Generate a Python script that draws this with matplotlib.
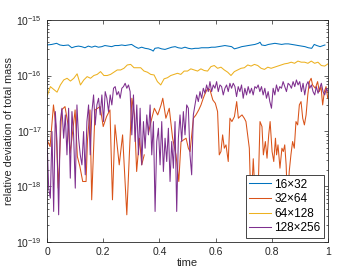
import numpy as np
import matplotlib
matplotlib.use("Agg")
from matplotlib import pyplot as plt

plt.rcParams['font.family'] = ['Liberation Sans', 'DejaVu Sans']

## dados (log10 dos desvios relativos)

# 16x32
t_16 = [0.000, 0.017, 0.034, 0.046, 0.058, 0.076, 0.088, 0.100, 0.112, 0.123, 0.135, 0.147,
        0.159, 0.171, 0.183, 0.195, 0.206, 0.218, 0.230, 0.242, 0.254, 0.266, 0.278, 0.289,
        0.301, 0.313, 0.325, 0.337, 0.349, 0.361, 0.372, 0.378, 0.384, 0.396, 0.408, 0.420,
        0.432, 0.444, 0.456, 0.467, 0.479, 0.491, 0.503, 0.515, 0.527, 0.539, 0.550, 0.562,
        0.574, 0.586, 0.598, 0.610, 0.622, 0.633, 0.645, 0.657, 0.667, 0.681, 0.693, 0.705,
        0.716, 0.728, 0.740, 0.752, 0.758, 0.764, 0.776, 0.788, 0.800, 0.811, 0.823, 0.835,
        0.847, 0.859, 0.871, 0.883, 0.894, 0.906, 0.918, 0.930, 0.942, 0.951, 0.960, 0.972,
        0.983, 0.989]
log_16 = [-15.45, -15.44, -15.42, -15.45, -15.46, -15.45, -15.50, -15.48, -15.47, -15.48, -15.50, -15.47,
          -15.49, -15.47, -15.49, -15.48, -15.46, -15.47, -15.48, -15.46, -15.46, -15.45, -15.46, -15.45,
          -15.44, -15.48, -15.51, -15.49, -15.51, -15.52, -15.54, -15.56, -15.51, -15.50, -15.52, -15.53,
          -15.51, -15.49, -15.48, -15.50, -15.51, -15.49, -15.51, -15.52, -15.51, -15.51, -15.50, -15.50,
          -15.50, -15.49, -15.49, -15.48, -15.47, -15.46, -15.47, -15.48, -15.52, -15.50, -15.48, -15.47,
          -15.46, -15.45, -15.44, -15.42, -15.40, -15.45, -15.46, -15.44, -15.43, -15.42, -15.43, -15.44,
          -15.43, -15.43, -15.44, -15.45, -15.46, -15.47, -15.48, -15.50, -15.51, -15.44, -15.46, -15.48,
          -15.46, -15.45]

# 32x64 (nan = valor nulo, buraco na curva)
t_32 = [0.000, 0.011, 0.023, 0.032, 0.040, 0.052, 0.064, 0.076, 0.082, 0.088, 0.100, 0.108,
        0.117, 0.127, 0.139, 0.144, 0.153, 0.159, 0.171, 0.189, 0.200, 0.212, 0.224, 0.233,
        0.242, 0.257, 0.269, 0.284, 0.293, 0.302, 0.311, 0.319, 0.329, 0.337, 0.346, 0.352,
        0.361, 0.370, 0.382, 0.394, 0.406, 0.412, 0.423, 0.435, 0.447, 0.459, 0.469, 0.477,
        0.495, 0.503, 0.509, 0.521, 0.530, 0.540, 0.548, 0.556, 0.563, 0.572, 0.580, 0.590,
        0.599, 0.607, 0.613, 0.619, 0.625, 0.631, 0.637, 0.645, 0.651, 0.658, 0.667, 0.675,
        0.681, 0.687, 0.694, 0.702, 0.708, 0.714, 0.720, 0.726, 0.734, 0.742, 0.750, 0.758,
        0.765, 0.770, 0.777, 0.783, 0.789, 0.794, 0.801, 0.807, 0.813, 0.817, 0.822, 0.829,
        0.836, 0.841, 0.846, 0.851, 0.856, 0.862, 0.868, 0.874, 0.880, 0.886, 0.892, 0.898,
        0.904, 0.910, 0.916, 0.922, 0.928, 0.934, 0.940, 0.945, 0.955, 0.963, 0.969, 0.975,
        0.981, 0.987, 0.993, 0.999]
log_32 = [-17.16, -17.28, -16.53, -16.92, -18.03, -16.62, -16.56, -16.92, -17.40, -17.16, -16.62, -17.46,
          -17.64, -17.91, -17.91, -17.16, -16.62, -18.24, -16.62, -16.56, -16.92, -16.74, -16.62, -18.24,
          -16.89, -17.61, -17.07, -18.51, -17.43, -16.41, -16.71, -17.73, -17.13, -17.61, -17.43, np.nan,
          -17.04, -16.83, -16.59, -16.71, -16.53, -16.41, -16.77, -16.59, -17.13, -17.43, -17.91, -17.19,
          -17.13, -17.31, -17.37, -16.77, -16.71, -16.62, -16.53, -16.41, -16.32, -16.23, -16.26, -16.44,
          -16.50, -16.65, -17.43, -17.37, -17.07, -17.31, -17.25, -17.55, -16.77, -16.83, -16.74, -16.47,
          -16.77, -16.74, -16.71, -16.77, -16.83, -17.07, -17.31, -18.40, -17.50, -18.30, -18.35, -16.83,
          -16.92, -17.43, -17.19, -17.49, -17.07, -16.83, -17.37, -17.55, -17.13, -17.43, -17.25, -17.67,
          -17.31, -17.37, -17.25, -17.61, -18.30, -17.73, -17.43, -17.19, -17.31, -16.83, -16.89, -16.53,
          -16.47, -16.77, -16.89, -16.71, -16.35, -16.11, -16.05, -16.17, -16.23, -16.11, -16.29, -16.20,
          -16.53, -16.29, -16.20, -16.41]

# 64x128 (passo uniforme)
log_64 = [-16.38, -16.20, -16.25, -16.30, -16.17, -16.08, -16.05, -16.10, -16.05, -15.97, -16.17, -16.08,
          -16.02, -16.05, -16.00, -15.98, -15.93, -16.00, -16.00, -15.98, -15.94, -15.90, -15.90, -15.87,
          -15.81, -15.80, -15.86, -15.86, -15.86, -15.92, -15.94, -15.98, -15.99, -16.11, -16.17, -16.06,
          -16.04, -16.00, -15.98, -15.96, -15.98, -15.92, -15.92, -15.88, -15.90, -15.92, -15.88, -15.91,
          -15.92, -15.84, -15.82, -15.87, -15.85, -15.90, -15.94, -16.00, -15.93, -15.90, -15.87, -15.86,
          -15.81, -15.83, -15.80, -15.82, -15.87, -15.89, -15.85, -15.87, -15.85, -15.83, -15.81, -15.79,
          -15.78, -15.76, -15.78, -15.74, -15.76, -15.76, -15.78, -15.74, -15.78, -15.76, -15.82, -15.83,
          -15.79]

# 128x256 (passo uniforme)
log_128 = [-17.13, -18.03, -18.21, -17.01, -18.45, -16.65, -17.19, -18.51, -16.83, -16.59, -17.13, -16.71,
           -17.43, -16.59, -17.85, -16.65, -17.07, -18.03, -16.53, -17.13, -17.43, -17.61, -17.01, -17.79,
           -16.83, -16.53, -17.43, -16.65, -16.35, -16.89, -16.53, -16.41, -16.71, -16.35, -16.83, -16.29,
           -16.41, -16.65, -16.35, -16.53, -16.23, -16.20, -16.35, -16.29, -16.41, -16.23, -16.20, -16.14,
           -16.23, -16.17, -16.29, -17.07, -16.35, -17.19, -16.53, -17.43, -16.59, -17.61, -16.83, -17.31,
           -16.71, -17.07, -16.53, -17.43, -16.83, -18.45, -17.19, -16.95, -17.61, -16.83, -17.73, -17.13,
           -17.55, -16.95, -17.91, -17.19, -17.67, -16.83, -18.45, -17.13, -16.71, -17.19, -16.65, -17.07,
           -16.53, -16.59, -17.43, -17.79, -16.71, -16.53, -16.35, -16.47, -16.29, -16.41, -16.23, -16.32,
           -16.17, -16.29, -16.11, -16.29, -16.17, -16.23, -16.11, -16.29, -16.17, -16.20, -16.35, -16.23,
           -16.17, -16.29, -16.14, -16.23, -16.14, -16.20, -16.38, -16.20, -16.29, -16.17, -16.41, -16.23,
           -16.35, -16.20, -16.32, -16.23, -16.35, -16.20, -16.23, -16.17, -16.29, -16.20, -16.35, -16.23,
           -16.41, -16.29, -16.47, -16.59, -16.23, -16.35, -16.17, -16.29, -16.20, -16.23, -16.11, -16.20,
           -16.29, -16.14, -16.17, -16.23, -16.11, -16.20, -16.08, -16.17, -16.11, -16.29, -16.14, -16.35,
           -16.17, -16.11, -16.23, -16.17, -16.29, -16.35, -16.20, -16.32, -16.23, -16.14, -16.29, -16.35,
           -16.23, -16.29]

t_64 = np.linspace(0, 1, len(log_64))
t_128 = np.linspace(0, 1, len(log_128))

rotulos = ["16\u00d732", "32\u00d764", "64\u00d7128", "128\u00d7256"]
cores = [(0, 0.447, 0.741), (0.850, 0.325, 0.098), (0.929, 0.694, 0.125), (0.494, 0.184, 0.556)]

## plot
fig = plt.figure(figsize=(3.63, 2.73), dpi=100)
ax = fig.add_axes([0.1295, 0.1136, 0.7741, 0.8131])

series = [(t_16, log_16), (t_32, log_32), (t_64, log_64), (t_128, log_128)]
for (t, lg), cor, rot in zip(series, cores, rotulos):
    ax.plot(t, 10.0 ** np.array(lg, dtype=float), color=cor, linewidth=0.75, label=rot)

ax.set_yscale('log')
ax.set_xlim(0, 1)
ax.set_ylim(1e-19, 1e-15)
ax.set_xticks([0, 0.2, 0.4, 0.6, 0.8, 1])
ax.set_xticklabels(["0", "0.2", "0.4", "0.6", "0.8", "1"])
ax.set_yticks([1e-19, 1e-18, 1e-17, 1e-16, 1e-15])

cinza = (0.15, 0.15, 0.15)
for lado in ax.spines.values():
    lado.set_color(cinza)
    lado.set_linewidth(0.6)
ax.tick_params(which='both', direction='in', top=True, right=True, colors=cinza,
               labelsize=7.5, width=0.5)
ax.tick_params(which='major', length=3)
ax.tick_params(which='minor', length=1.6)
ax.tick_params(axis='x', pad=3.5)

ax.set_xlabel("time", fontsize=8, color=cinza, labelpad=1)
ax.set_ylabel("relative deviation of total mass", fontsize=7.8, color=cinza, labelpad=2)

leg = ax.legend(loc='lower right', fontsize=8.5, fancybox=False, framealpha=1,
                edgecolor=cinza, borderaxespad=0.35, handlelength=1.8, handletextpad=0.3,
                borderpad=0.3, labelspacing=0.22)
leg.get_frame().set_linewidth(0.6)

plt.savefig("out.png", dpi=100)
